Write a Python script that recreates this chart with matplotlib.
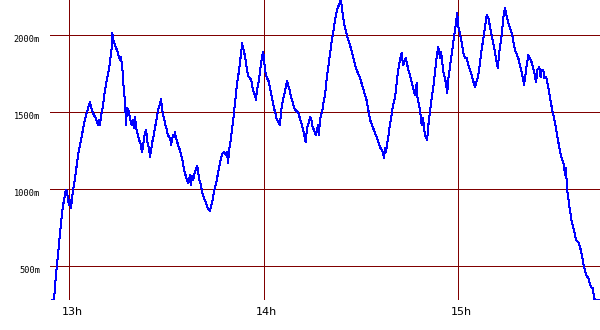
import matplotlib
matplotlib.use("Agg")
import matplotlib.pyplot as plt
import matplotlib.transforms as mtransforms

# time in minutes since 12:00, altitude in metres
minutes = [54.7, 55.3, 55.6, 55.9, 56.2, 56.5, 56.8, 57.1, 57.4, 57.7, 58.1, 58.4, 58.7, 59.0, 59.3, 59.6, 59.9, 60.2, 60.5, 60.8,
           61.1, 61.4, 61.8, 62.1, 62.4, 62.7, 63.0, 63.3, 63.6, 63.9, 64.2, 64.5, 64.8, 65.2, 65.5, 65.8, 66.1, 66.4, 66.7, 67.0,
           67.6, 68.2, 68.5, 68.9, 69.2, 69.5, 69.8, 70.1, 70.4, 70.7, 71.0, 71.3, 71.6, 71.9, 72.3, 72.6, 72.9, 73.2, 73.3, 73.5,
           73.8, 74.1, 74.4, 74.7, 75.0, 75.3, 75.6, 75.9, 76.3, 76.6, 76.9, 77.2, 77.5, 77.8, 78.1, 78.4, 78.7, 79.0, 79.3, 79.7,
           80.0, 80.3, 80.6, 80.9, 81.2, 81.5, 81.8, 82.1, 82.4, 82.7, 83.0, 83.4, 83.7, 84.0, 84.3, 84.6, 84.9, 85.2, 85.5, 85.8,
           86.1, 86.4, 86.8, 87.1, 87.4, 87.7, 88.0, 88.3, 88.6, 88.9, 89.2, 89.5, 89.8, 90.1, 90.4, 90.8, 91.1, 91.4, 91.7, 92.0,
           92.3, 92.6, 92.9, 93.2, 93.5, 93.8, 94.1, 94.5, 94.8, 95.1, 95.4, 95.7, 96.0, 96.3, 96.6, 96.9, 97.2, 97.5, 97.8, 98.2,
           98.5, 98.8, 99.1, 99.4, 99.7, 100.0, 100.3, 100.6, 100.9, 101.2, 101.6, 101.9, 102.2, 102.5, 102.8, 103.1, 103.4, 103.7, 104.0, 104.3,
           104.6, 104.9, 105.3, 105.6, 105.9, 106.2, 106.5, 106.8, 107.1, 107.4, 107.7, 108.0, 108.3, 108.6, 109.0, 109.3, 109.6, 109.9, 110.2, 110.5,
           110.8, 111.1, 111.4, 111.7, 112.0, 112.4, 112.7, 113.0, 113.3, 113.6, 113.9, 114.2, 114.5, 114.8, 115.1, 115.4, 115.7, 116.1, 116.4, 116.7,
           117.0, 117.3, 117.6, 117.9, 118.2, 118.5, 118.8, 119.1, 119.4, 119.8, 120.1, 120.4, 120.7, 121.0, 121.3, 121.6, 121.9, 122.2, 122.5, 122.8,
           123.1, 123.5, 123.8, 124.1, 124.4, 124.7, 125.0, 125.3, 125.6, 125.9, 126.2, 126.5, 126.8, 127.2, 127.5, 127.8, 128.1, 128.4, 128.7, 129.0,
           129.3, 129.6, 130.2, 130.6, 130.9, 131.2, 131.5, 131.8, 132.1, 132.4, 132.7, 133.0, 133.3, 133.6, 133.9, 134.3, 134.6, 134.9, 135.2, 135.5,
           135.8, 136.1, 136.4, 136.7, 137.0, 137.3, 137.6, 138.0, 138.3, 138.6, 138.9, 139.2, 139.5, 139.8, 140.1, 140.4, 140.7, 141.0, 141.4, 141.7,
           142.0, 142.3, 142.6, 142.9, 143.2, 143.5, 143.8, 144.1, 144.4, 144.7, 145.1, 145.6, 146.6, 147.6, 148.4, 149.7, 150.6, 151.7, 152.8, 153.4,
           154.3, 155.2, 155.8, 156.5, 157.1, 157.4, 157.7, 158.4, 158.9, 159.5, 159.9, 160.5, 161.2, 161.7, 162.5, 163.0, 163.8, 164.6, 165.1, 165.6,
           166.0, 166.6, 167.2, 167.4, 168.2, 168.7, 169.1, 169.7, 170.4, 170.7, 171.6, 172.3, 172.8, 173.4, 173.8, 174.4, 174.7, 175.4, 176.2, 176.6,
           176.9, 177.7, 178.5, 179.0, 179.5, 179.7, 179.9, 180.3, 181.1, 181.5, 181.8, 182.1, 182.6, 183.3, 184.1, 184.5, 185.2, 186.2, 187.2, 188.0,
           188.8, 189.3, 189.8, 190.6, 191.3, 191.8, 192.2, 192.6, 193.4, 193.9, 194.4, 195.4, 196.5, 197.5, 198.5, 199.6, 200.3, 200.9, 201.6, 202.6,
           203.4, 204.0, 204.4, 205.0, 205.4, 205.7, 206.2, 206.6, 207.1, 207.8, 208.3, 209.1, 209.8, 210.6, 211.4, 212.1, 212.6, 212.9, 213.2, 213.6,
           214.3, 215.0, 215.7, 216.3, 217.0, 217.8, 218.4, 218.8, 219.4, 220.1, 220.9, 221.5, 221.9, 222.2, 223.7]

altitude = [281, 281, 379, 444, 502, 573, 638, 703, 768, 833, 898, 930, 975, 995, 982, 930, 898, 930, 878, 930,
            982, 1027, 1073, 1125, 1170, 1222, 1254, 1287, 1319, 1352, 1384, 1416, 1449, 1481, 1501, 1527, 1546, 1566, 1533, 1514,
            1481, 1462, 1436, 1416, 1449, 1416, 1481, 1501, 1546, 1591, 1643, 1676, 1708, 1741, 1786, 1838, 1883, 1935, 2013, 1968,
            1955, 1935, 1916, 1903, 1883, 1857, 1838, 1857, 1805, 1708, 1624, 1566, 1416, 1527, 1514, 1501, 1462, 1436, 1416, 1449,
            1397, 1468, 1397, 1371, 1352, 1319, 1306, 1287, 1241, 1267, 1319, 1371, 1384, 1319, 1287, 1267, 1209, 1254, 1287, 1332,
            1352, 1397, 1436, 1481, 1514, 1533, 1553, 1585, 1527, 1481, 1462, 1436, 1403, 1384, 1352, 1339, 1332, 1287, 1319, 1352,
            1339, 1371, 1332, 1319, 1287, 1274, 1254, 1222, 1202, 1170, 1125, 1105, 1079, 1060, 1040, 1047, 1092, 1027, 1086, 1060,
            1092, 1112, 1137, 1150, 1125, 1073, 1047, 1027, 995, 962, 943, 923, 910, 891, 872, 865, 859, 885, 910, 943,
            975, 1008, 1040, 1073, 1105, 1137, 1170, 1202, 1222, 1235, 1241, 1235, 1222, 1241, 1170, 1254, 1287, 1339, 1384, 1436,
            1494, 1546, 1611, 1676, 1721, 1773, 1838, 1870, 1948, 1916, 1890, 1864, 1825, 1773, 1741, 1728, 1721, 1708, 1676, 1643,
            1624, 1611, 1578, 1643, 1676, 1708, 1760, 1805, 1851, 1890, 1838, 1773, 1741, 1721, 1708, 1695, 1656, 1630, 1598, 1566,
            1527, 1501, 1468, 1449, 1436, 1429, 1416, 1501, 1546, 1578, 1604, 1630, 1669, 1702, 1676, 1656, 1630, 1598, 1578, 1559,
            1533, 1514, 1507, 1494, 1481, 1449, 1436, 1416, 1384, 1364, 1319, 1306, 1397, 1416, 1429, 1468, 1462, 1416, 1397, 1384,
            1364, 1352, 1384, 1416, 1352, 1436, 1481, 1501, 1546, 1578, 1611, 1676, 1741, 1773, 1825, 1870, 1916, 1968, 2013, 2065,
            2097, 2130, 2162, 2182, 2195, 2214, 2227, 2175, 2130, 2084, 2045, 2000, 1935, 1851, 1786, 1721, 1656, 1578, 1449, 1416,
            1364, 1319, 1274, 1254, 1202, 1267, 1241, 1339, 1416, 1494, 1546, 1598, 1728, 1805, 1883, 1805, 1851, 1773, 1741, 1695,
            1663, 1611, 1689, 1598, 1514, 1416, 1462, 1352, 1319, 1403, 1559, 1663, 1760, 1870, 1922, 1851, 1890, 1760, 1689, 1624,
            1708, 1838, 1955, 2032, 2110, 2143, 2065, 2032, 1948, 1890, 1870, 1851, 1851, 1792, 1741, 1708, 1663, 1741, 1903, 2019,
            2130, 2110, 2052, 1968, 1890, 1825, 1786, 1883, 2000, 2117, 2175, 2078, 2013, 1903, 1851, 1754, 1676, 1773, 1870, 1825,
            1760, 1695, 1773, 1792, 1728, 1773, 1773, 1721, 1728, 1656, 1591, 1501, 1436, 1339, 1241, 1189, 1157, 1092, 1137, 995,
            885, 787, 735, 671, 658, 606, 541, 495, 444, 424, 366, 359, 294, 281, 281]

hour_ticks = [60, 120, 180]
hour_labels = ["13h", "14h", "15h"]
alt_ticks = [500, 1000, 1500, 2000]
alt_labels = ["500m", "1000m", "1500m", "2000m"]

fig = plt.figure(figsize=(6, 3.3), dpi=100)
ax = fig.add_axes([50 / 600, 30 / 330, 550 / 600, 300 / 330])
ax.set_xlim(54.05, 223.72)
ax.set_ylim(281.5, 2227)
for s in ax.spines.values():
    s.set_visible(False)
ax.set_xticks([])
ax.set_yticks([])

grid_color = "#800000"
for a in alt_ticks:
    ax.axhline(a, color=grid_color, lw=0.72, zorder=1, antialiased=False)
for h in hour_ticks:
    ax.axvline(h, color=grid_color, lw=0.72, zorder=1, antialiased=False)

ax.plot(minutes, altitude, color="#0000ff", lw=0.72, zorder=3, clip_on=True,
        antialiased=False)

xtr = mtransforms.offset_copy(ax.get_xaxis_transform(), fig=fig, x=3, y=-12, units="dots")
for h, lab in zip(hour_ticks, hour_labels):
    ax.text(h, 0, lab, transform=xtr, ha="center", va="center",
            fontsize=8, family="DejaVu Sans", color="black")

ytr = mtransforms.offset_copy(ax.get_yaxis_transform(), fig=fig, x=-10, y=-4, units="dots")
for a, lab in zip(alt_ticks, alt_labels):
    ax.text(0, a, lab, transform=ytr, ha="right", va="center",
            fontsize=6.2, family="DejaVu Sans Mono", color="black")

fig.savefig("out.png", dpi=100)
